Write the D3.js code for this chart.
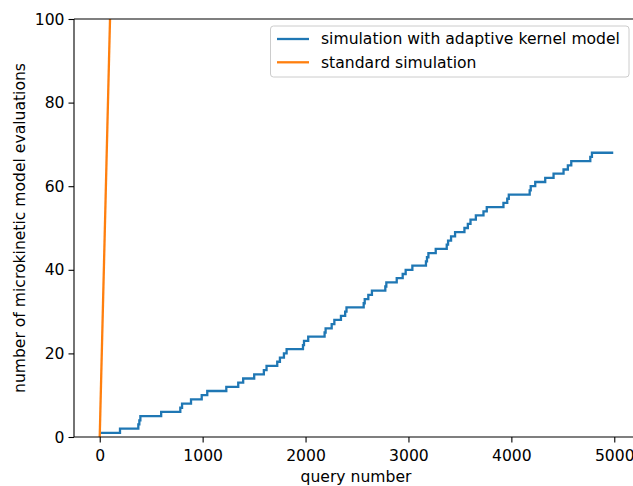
<!DOCTYPE html>
<html>
<head>
<meta charset="utf-8">
<script src="https://cdn.jsdelivr.net/npm/d3@7/dist/d3.min.js"></script>
<style>
  html, body { margin: 0; padding: 0; background: #fff; }
  svg { display: block; }
  text { font-family: "DejaVu Sans", sans-serif; }
</style>
</head>
<body>
<svg id="chart" width="633" height="486"></svg>
<script>
// Query numbers at which the adaptive-kernel simulation count changes, and the count from there on
const adaptiveQueries = [0, 197, 375, 385, 395, 597, 783, 800, 887, 991, 1045, 1230, 1346, 1394, 1501, 1595, 1621,
  1725, 1751, 1790, 1816, 1975, 1985, 2026, 2185, 2195, 2254, 2280, 2344, 2385, 2398, 2565, 2575, 2610, 2645,
  2775, 2785, 2886, 2944, 2973, 3038, 3170, 3180, 3194, 3265, 3372, 3385, 3414, 3453, 3544, 3577, 3603, 3655,
  3729, 3761, 3923, 3960, 3975, 4178, 4188, 4232, 4329, 4410, 4507, 4549, 4582, 4767, 4783, 4990];
const adaptiveEvals = [1, 2, 3, 4, 5, 6, 7, 8, 9, 10, 11, 12, 13, 14, 15, 16, 17,
  18, 19, 20, 21, 22, 23, 24, 25, 26, 27, 28, 29, 30, 31, 32, 33, 34, 35,
  36, 37, 38, 39, 40, 41, 42, 43, 44, 45, 46, 47, 48, 49, 50, 51, 52, 53,
  54, 55, 56, 57, 58, 59, 60, 61, 62, 63, 64, 65, 66, 67, 68, 68];
// Standard simulation: one evaluation per query
const standardQueries = [0, 4990];
const standardEvals = [0, 4990];

const xTicks = [0, 1000, 2000, 3000, 4000, 5000];
const yTicks = [0, 20, 40, 60, 80, 100];
const seriesNames = ["simulation with adaptive kernel model", "standard simulation"];
const seriesColors = ["#1f77b4", "#ff7f0e"];

const FS = "15.6px";
const svg = d3.select("#chart");
const m = { left: 74, top: 19, right: 640, bottom: 437 };

const x = d3.scaleLinear().domain([-250, 5250]).range([m.left, m.right]);
const y = d3.scaleLinear().domain([0, 100]).range([m.bottom, m.top]);

svg.append("defs").append("clipPath").attr("id", "clip")
  .append("rect").attr("x", m.left).attr("y", m.top)
  .attr("width", m.right - m.left).attr("height", m.bottom - m.top);

const plot = svg.append("g").attr("clip-path", "url(#clip)");

const adaptive = adaptiveQueries.map((q, i) => [q, adaptiveEvals[i]]);
const standard = standardQueries.map((q, i) => [q, standardEvals[i]]);

plot.append("path")
  .attr("d", d3.line().x(d => x(d[0])).y(d => y(d[1])).curve(d3.curveStepAfter)(adaptive))
  .attr("fill", "none").attr("stroke", seriesColors[0]).attr("stroke-width", 2.3)
  .attr("stroke-linejoin", "miter");

plot.append("path")
  .attr("d", d3.line().x(d => x(d[0])).y(d => y(d[1]))(standard))
  .attr("fill", "none").attr("stroke", seriesColors[1]).attr("stroke-width", 2.3);

// axes
const xAxis = d3.axisBottom(x).tickValues(xTicks).tickSize(5.5).tickPadding(4).tickFormat(d3.format("d"));
const yAxis = d3.axisLeft(y).tickValues(yTicks).tickSize(5.5).tickPadding(4).tickFormat(d3.format("d"));

const gx = svg.append("g").attr("transform", `translate(0,${m.bottom})`).call(xAxis);
const gy = svg.append("g").attr("transform", `translate(${m.left},0)`).call(yAxis);
[gx, gy].forEach(g => {
  g.select(".domain").remove();
  g.selectAll(".tick line").attr("stroke", "#000").attr("stroke-width", 1.1);
  g.selectAll(".tick text").attr("fill", "#000").style("font-size", FS)
    .style("font-family", "'DejaVu Sans', sans-serif");
});
gx.selectAll(".tick text").attr("dy", "0.9em");

// spines
const sp = svg.append("g").attr("stroke", "#000").attr("stroke-width", 1.1).attr("fill", "none");
sp.append("line").attr("x1", m.left).attr("x2", m.right).attr("y1", m.bottom).attr("y2", m.bottom);
sp.append("line").attr("x1", m.left).attr("x2", m.right).attr("y1", m.top).attr("y2", m.top);
sp.append("line").attr("x1", m.left).attr("x2", m.left).attr("y1", m.top).attr("y2", m.bottom);
sp.append("line").attr("x1", m.right).attr("x2", m.right).attr("y1", m.top).attr("y2", m.bottom);

// labels
svg.append("text").attr("x", (m.left + m.right) / 2 - 1).attr("y", 482)
  .attr("text-anchor", "middle").style("font-size", FS).text("query number");
svg.append("text")
  .attr("transform", `translate(25,${(m.top + m.bottom) / 2}) rotate(-90)`)
  .attr("text-anchor", "middle").style("font-size", FS)
  .text("number of microkinetic model evaluations");

// legend
const lg = svg.append("g");
lg.append("rect").attr("x", 270.5).attr("y", 26).attr("width", 358.5).attr("height", 51)
  .attr("rx", 3).attr("fill", "#fff").attr("fill-opacity", 0.8)
  .attr("stroke", "#cccccc").attr("stroke-width", 1);
seriesNames.forEach((name, i) => {
  const yy = 39 + i * 23.3;
  lg.append("line").attr("x1", 277).attr("x2", 309).attr("y1", yy).attr("y2", yy)
    .attr("stroke", seriesColors[i]).attr("stroke-width", 2.3);
  lg.append("text").attr("x", 321).attr("y", yy).attr("dy", "0.35em")
    .style("font-size", FS).attr("fill", "#000").text(name);
});
</script>
</body>
</html>
